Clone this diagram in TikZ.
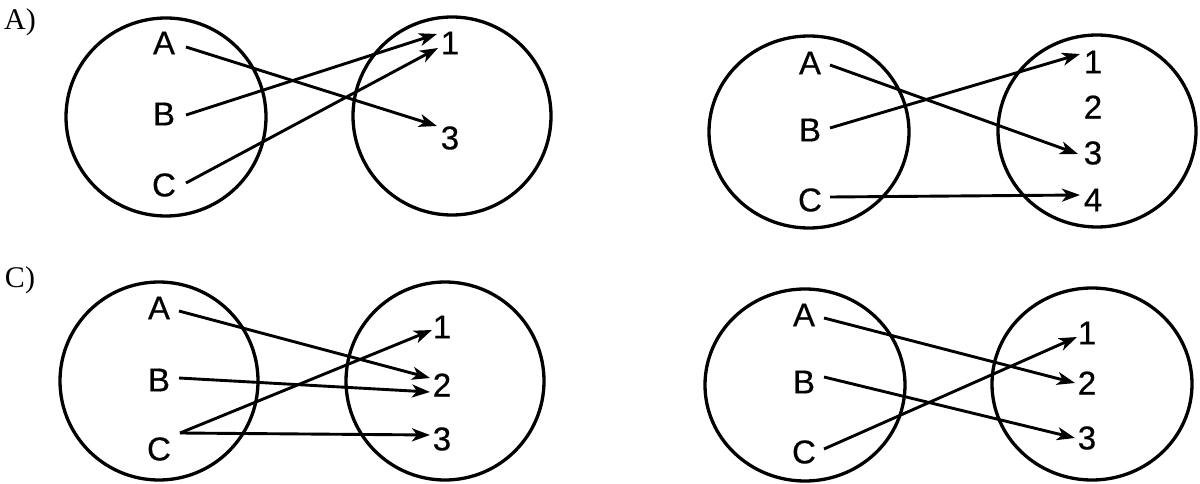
\documentclass[tikz,border=0pt]{standalone}
\usepackage{fontspec}
\setmainfont{Liberation Serif}
\newfontfamily\lblfont[FakeBold=0.5]{Liberation Sans}
\usetikzlibrary{arrows.meta}
\tikzset{
  setline/.style={line width=3.3pt},
  lbl/.style={inner sep=0pt, outer sep=0pt, font=\lblfont\fontsize{33}{33}\selectfont},
  panel/.style={inner sep=0pt, outer sep=0pt, font=\fontsize{30}{30}\selectfont},
  arr/.style={line width=2.9pt, -{Stealth[length=18pt,width=13pt,inset=5pt]}}
}
\begin{document}
\begin{tikzpicture}[x=1pt,y=-1pt]
\useasboundingbox (0,0) rectangle (1200,484);

% ---------- Panel A ----------
\node[panel] (pA) at (20,22) {A)};
\draw[setline] (166,117) ellipse [x radius=100pt, y radius=99pt];
\draw[setline] (452,116) ellipse [x radius=99pt, y radius=99pt];
\node[lbl] (aA) at (164,43) {A};
\node[lbl] (aB) at (164,114) {B};
\node[lbl] (aC) at (164,185) {C};
\node[lbl] (a1) at (450,43) {1};
\node[lbl] (a3) at (450,138) {3};
\draw[arr] ([shift={(22,4)}]aA.center) -- ([shift={(-13,-12)}]a3.center);
\draw[arr] ([shift={(22,1)}]aB.center) -- ([shift={(-13,-9)}]a1.center);
\draw[arr] ([shift={(22,-2)}]aC.center) -- ([shift={(-12,5)}]a1.center);

% ---------- Panel B ----------
\draw[setline] (809,132) ellipse [x radius=100pt, y radius=96pt];
\draw[setline] (1097,131) ellipse [x radius=99pt, y radius=96pt];
\node[lbl] (bA) at (810,63) {A};
\node[lbl] (bB) at (810,130) {B};
\node[lbl] (bC) at (810,200) {C};
\node[lbl] (b1) at (1093,62) {1};
\node[lbl] (b2) at (1093,107) {2};
\node[lbl] (b3) at (1093,153) {3};
\node[lbl] (b4) at (1093,200) {4};
\draw[arr] ([shift={(20,2)}]bA.center) -- ([shift={(-15,1)}]b3.center);
\draw[arr] ([shift={(20,-2)}]bB.center) -- ([shift={(-13,-8)}]b1.center);
\draw[arr] ([shift={(20,-3)}]bC.center) -- ([shift={(-13,-5)}]b4.center);

% ---------- Panel C ----------
\node[panel] (pC) at (20,280) {C)};
\draw[setline] (159,381) ellipse [x radius=99pt, y radius=99pt];
\draw[setline] (445,381) ellipse [x radius=99pt, y radius=99pt];
\node[lbl] (cA) at (159,308) {A};
\node[lbl] (cB) at (159,380) {B};
\node[lbl] (cC) at (159,449) {C};
\node[lbl] (c1) at (442,327) {1};
\node[lbl] (c2) at (442,385) {2};
\node[lbl] (c3) at (442,439) {3};
\draw[arr] ([shift={(20,3)}]cA.center) -- ([shift={(-12,-7)}]c2.center);
\draw[arr] ([shift={(20,-2)}]cB.center) -- ([shift={(-12,7)}]c2.center);
\draw[arr] ([shift={(21,-16)}]cC.center) -- ([shift={(-10,3)}]c1.center);
\draw[arr] ([shift={(21,-16)}]cC.center) -- ([shift={(-12,-4)}]c3.center);

% ---------- Panel D ----------
\draw[setline] (805,385) ellipse [x radius=100pt, y radius=96pt];
\draw[setline] (1092,384) ellipse [x radius=100pt, y radius=96pt];
\node[lbl] (dA) at (804,315) {A};
\node[lbl] (dB) at (804,382) {B};
\node[lbl] (dC) at (804,452) {C};
\node[lbl] (d1) at (1087,333) {1};
\node[lbl] (d2) at (1087,383) {2};
\node[lbl] (d3) at (1087,438) {3};
\draw[arr] ([shift={(20,3)}]dA.center) -- ([shift={(-12,0)}]d2.center);
\draw[arr] ([shift={(20,-5)}]dB.center) -- ([shift={(-12,0)}]d3.center);
\draw[arr] ([shift={(20,-3)}]dC.center) -- ([shift={(-10,4)}]d1.center);
\end{tikzpicture}
\end{document}
